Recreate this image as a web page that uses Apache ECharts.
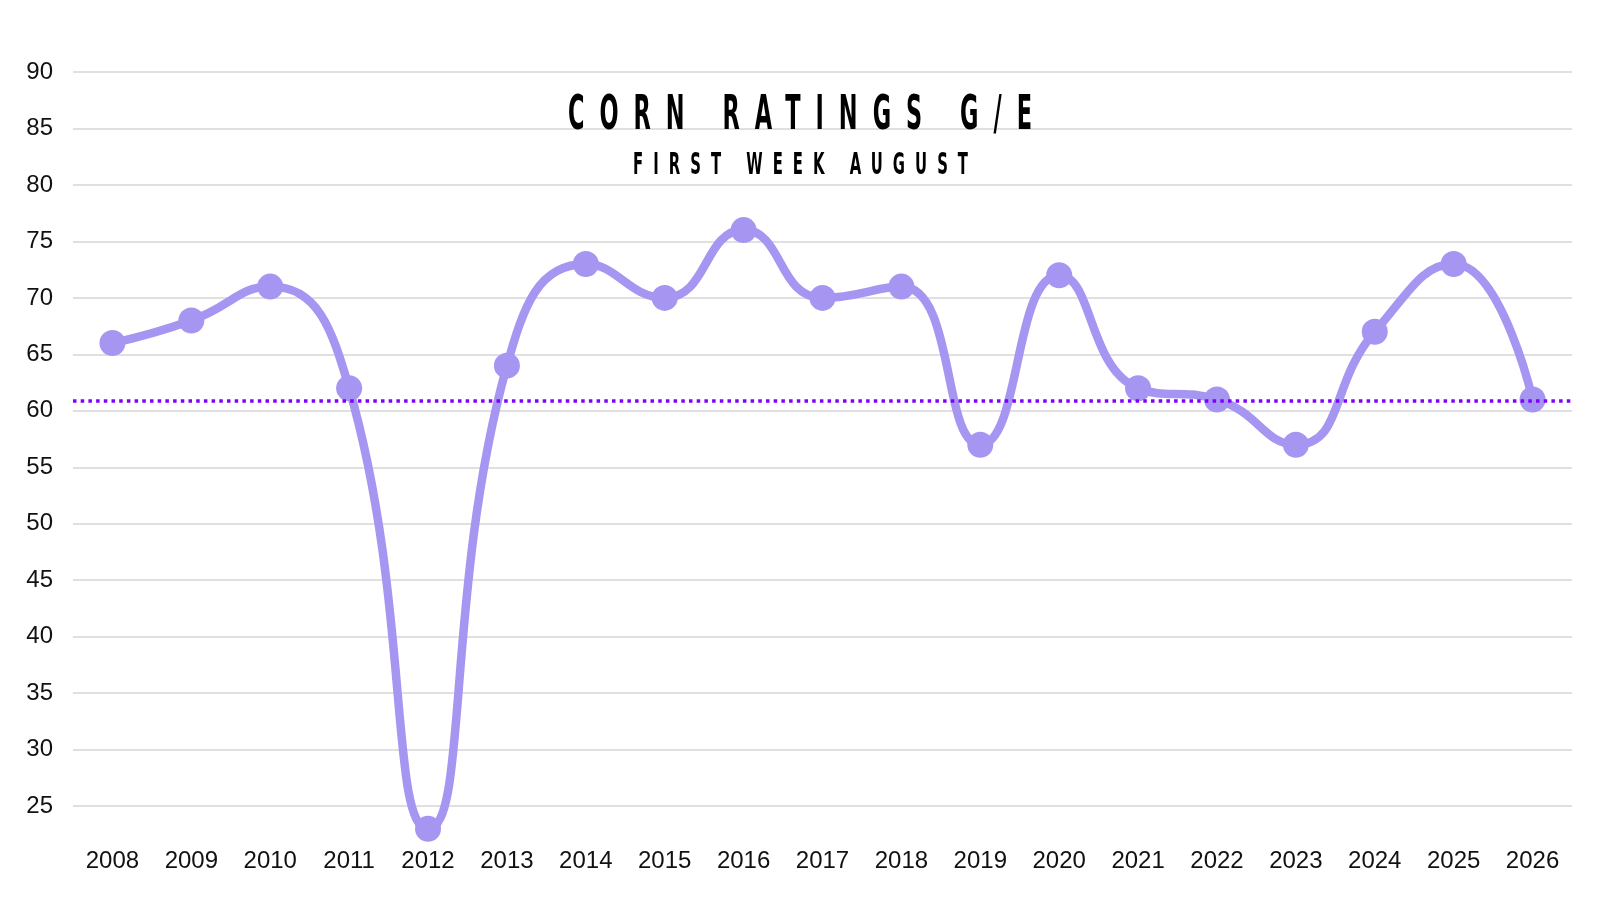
<!DOCTYPE html>
<html>
<head>
<meta charset="utf-8">
<script src="https://cdn.jsdelivr.net/npm/echarts@6/dist/echarts.min.js"></script>
<style>
  html, body { margin: 0; padding: 0; background: #ffffff; }
  #wrap { position: relative; width: 1600px; height: 900px; }
  #chart { position: absolute; left: 0; top: 0; width: 1600px; height: 900px; }
  .ttl { position: absolute; white-space: nowrap; color: #000; font-family: "DejaVu Sans Condensed", "DejaVu Sans", sans-serif; font-weight: bold; transform-origin: 0 0; }
</style>
</head>
<body>
<div id="wrap">
  <div id="chart"></div>
  <div id="t1" class="ttl" style="font-size:48px;">CORN RATINGS G/E</div>
  <div id="t2" class="ttl" style="font-size:30px;">FIRST WEEK AUGUST</div>
</div>
<script>
const years = ['2008','2009','2010','2011','2012','2013','2014','2015','2016','2017','2018','2019','2020','2021','2022','2023','2024','2025','2026'];
const ratings = [66, 68, 71, 62, 23, 64, 73, 70, 76, 70, 71, 57, 72, 62, 61, 57, 67, 73, 61];
const yTicks = [25, 30, 35, 40, 45, 50, 55, 60, 65, 70, 75, 80, 85, 90];
const referenceLevel = 60.85;

// Title layout: condensed glyphs with wide tracking, fitted to the target span
function fitTitle(id, targetWidth, centerX, capTop, squeeze) {
  const el = document.getElementById(id);
  el.style.letterSpacing = '0px';
  const w0 = el.getBoundingClientRect().width;
  const n = el.textContent.length;
  const inner = targetWidth / squeeze;
  const ls = (inner - w0) / (n - 1);
  el.style.letterSpacing = ls + 'px';
  el.style.transform = 'scaleX(' + squeeze + ')';
  el.style.left = (centerX - targetWidth / 2) + 'px';
  const fs = parseFloat(el.style.fontSize);
  el.style.lineHeight = fs + 'px';
  el.style.top = (capTop - fs * 0.14) + 'px';
}
fitTitle('t1', 464, 800, 95, 0.52);
fitTitle('t2', 335, 800, 153, 0.55);

const chart = echarts.init(document.getElementById('chart'), null, { renderer: 'canvas' });
chart.setOption({
  backgroundColor: '#ffffff',
  animation: false,
  grid: { left: 73, right: 28, top: 72, bottom: 60, containLabel: false },
  xAxis: {
    type: 'category',
    data: years,
    boundaryGap: true,
    axisLine: { show: false },
    axisTick: { show: false },
    axisLabel: { color: '#111', fontSize: 24, fontFamily: 'Liberation Sans, Arial, sans-serif', margin: 9 }
  },
  yAxis: {
    type: 'value',
    min: 22,
    max: 90,
    axisLine: { show: false },
    axisTick: { show: false, customValues: yTicks },
    axisLabel: { color: '#111', fontSize: 24, fontFamily: 'Liberation Sans, Arial, sans-serif', margin: 20, customValues: yTicks },
    splitLine: { show: true, lineStyle: { color: '#d6d6d6', width: 1.5 } }
  },
  series: [{
    type: 'line',
    data: ratings,
    smooth: 0.5,
    symbol: 'circle',
    symbolSize: 26,
    clip: true,
    lineStyle: { color: '#a696f2', width: 8.5 },
    itemStyle: { color: '#a696f2' },
    markLine: {
      silent: true,
      symbol: ['none', 'none'],
      label: { show: false },
      lineStyle: { color: '#8000ff', width: 3.5, type: [3.5, 4.2], cap: 'butt' },
      data: [{ yAxis: referenceLevel }]
    }
  }]
});
</script>
</body>
</html>
